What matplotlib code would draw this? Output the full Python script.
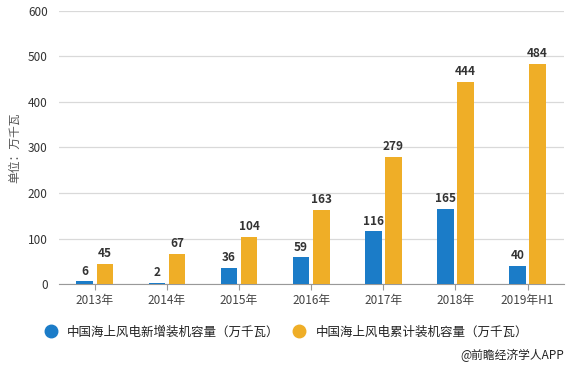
import numpy as np
import matplotlib
matplotlib.use("Agg")
from matplotlib import pyplot as plt
from matplotlib.lines import Line2D

plt.rcParams['font.family'] = ['Noto Sans CJK SC', 'DejaVu Sans']

years = ['2013年', '2014年', '2015年', '2016年', '2017年', '2018年', '2019年H1']
new_cap = [6, 2, 36, 59, 116, 165, 40]
total_cap = [45, 67, 104, 163, 279, 444, 484]
series_names = ['中国海上风电新增装机容量（万千瓦）', '中国海上风电累计装机容量（万千瓦）']

blue = '#1b7cc8'
orange = '#efae27'

fig = plt.figure(figsize=(5.71, 3.66), dpi=100)
ax = fig.add_axes([0.103, 0.224, 0.884, 0.746])

x = np.arange(len(years))
w = 0.23
off = 0.14
ax.bar(x - off, new_cap, w, color=blue, zorder=3)
ax.bar(x + off, total_cap, w, color=orange, zorder=3)

for i in range(len(years)):
    ax.text(x[i] - off, new_cap[i] + 8, str(new_cap[i]), ha='center', va='bottom',
            fontsize=8.5, fontweight='bold', color='#333333')
    ax.text(x[i] + off, total_cap[i] + 8, str(total_cap[i]), ha='center', va='bottom',
            fontsize=8.5, fontweight='bold', color='#333333')

ax.set_xlim(-0.5, len(years) - 0.5)
ax.set_ylim(0, 600)
ax.set_yticks(range(0, 601, 100))
ax.set_xticks(x)
ax.set_xticklabels(years)
ax.grid(axis='y', color='#d9d9d9', linewidth=0.9, zorder=0)
for s in ['top', 'right', 'left']:
    ax.spines[s].set_visible(False)
ax.spines['bottom'].set_color('#999999')
ax.tick_params(axis='y', length=0, labelsize=8.5, labelcolor='#333333', pad=8)
ax.tick_params(axis='x', length=4, color='#999999', labelsize=8.5, labelcolor='#444444', pad=3)
ax.set_ylabel('单位：万千瓦', fontsize=8.5, color='#555555', labelpad=5)

handles = [Line2D([], [], marker='o', linestyle='', markersize=9, color=blue),
           Line2D([], [], marker='o', linestyle='', markersize=9, color=orange)]
fig.legend(handles, series_names, loc='center left', bbox_to_anchor=(0.047, 0.093),
           ncol=2, frameon=False, fontsize=9, handletextpad=0.3, columnspacing=0.6,
           labelcolor='#222222')

fig.text(0.988, 0.03, '@前瞻经济学人APP', ha='right', va='center', fontsize=8.5, color='#222222')

fig.savefig('out.png', dpi=100)
